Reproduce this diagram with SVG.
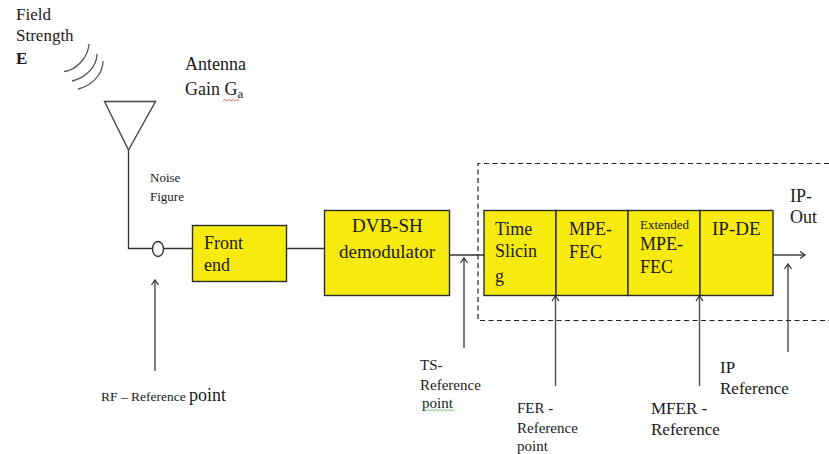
<svg xmlns="http://www.w3.org/2000/svg" width="829" height="454" viewBox="0 0 829 454">
<defs>
<marker id="arr" markerUnits="userSpaceOnUse" markerWidth="10" markerHeight="10" refX="8" refY="5" orient="auto"><path d="M3 1.500L8 5L3 8.500" fill="none" stroke="#333" stroke-width="1.300"/></marker>
</defs>
<style>
text{font-family:"Liberation Serif","Times New Roman",serif;fill:#1a1a1a;font-size:17px}
.b{font-size:18px}
.c{font-size:19px}
.s{font-size:15px}
.t{font-size:13px}
.box{fill:#f7ea0e;stroke:#2b2b2b;stroke-width:1.400}
.ln{fill:none;stroke:#333;stroke-width:1.300}
.ref{fill:none;stroke:#555;stroke-width:1.500;marker-end:url(#arr)}
.sq{fill:none;stroke:#c33;stroke-width:.7}
</style>
<rect width="829" height="454" fill="#fff"/>
<g id="connectors">
<path class="ln" d="M128.500 150V248.500H152M164 248.500H192"/>
<path class="ln" d="M287 248.500H324"/>
<path class="ln" d="M450 255H484"/>
<path class="ref" style="stroke:#444" d="M773 255H805"/>
<path class="ref" d="M155 371V280"/>
<path class="ref" d="M464 348V258"/>
<path class="ref" d="M555.500 386V296"/>
<path class="ref" d="M699.500 386V296"/>
<path class="ref" d="M788 352V264"/>
</g>
<g id="field-strength">
<text x="16" y="20">Field</text><text x="16" y="41">Strength</text><text x="16" y="64" font-weight="bold">E</text>
<path d="M64 71.500C76 70 88 58 89 44M72 81C85 78 97 67 97 54M78 89C91 86 103 75 103 61" fill="none" stroke="#555" stroke-width="1.300"/>
</g>
<g id="antenna">
<path d="M104.500 101.500H155.500L128.500 150Z" fill="none" stroke="#444" stroke-width="1.400"/>
<text class="b" x="185" y="70">Antenna</text>
<text class="b" x="185" y="95">Gain G<tspan font-size="13" dy="3">a</tspan></text>
<path class="sq" d="M223 101l2-1.500 2 1.500 2-1.500 2 1.500 2-1.500 2 1.500 2-1.500 2 1.500"/>
</g>
<g id="noise-figure">
<text class="t" x="150" y="182">Noise</text><text class="t" x="150" y="201">Figure</text>
<ellipse cx="158" cy="249" rx="5.500" ry="7.500" fill="#fff" stroke="#333" stroke-width="1.400"/>
</g>
<g id="front-end">
<rect class="box" x="192.500" y="225.500" width="94" height="56"/>
<text class="b" x="204" y="249">Front</text><text class="b" x="204" y="271">end</text>
</g>
<g id="demodulator">
<rect class="box" x="324.500" y="210.500" width="125" height="85"/>
<text class="c" x="352" y="232">DVB-SH</text><text class="c" x="339" y="258">demodulator</text>
</g>
<g id="dashed-region">
<path d="M829 163.500H478V320.500H829" fill="none" stroke="#222" stroke-width="1.200" stroke-dasharray="5 3.500"/>
</g>
<g id="time-slicing">
<rect class="box" x="484" y="210.500" width="72" height="85"/>
<text class="b" x="495" y="235">Time</text><text class="b" x="495" y="257">Slicin</text><text class="b" x="495" y="282">g</text>
</g>
<g id="mpe-fec">
<rect class="box" x="556" y="210.500" width="72" height="85"/>
<text class="b" x="569" y="235">MPE-</text><text class="b" x="569" y="258">FEC</text>
</g>
<g id="extended-mpe-fec">
<rect class="box" x="628" y="210.500" width="72" height="85"/>
<text class="t" x="640" y="229">Extended</text>
<text class="b" x="640" y="250">MPE-</text><text class="b" x="640" y="273">FEC</text>
</g>
<g id="ip-de">
<rect class="box" x="700" y="210.500" width="73" height="85"/>
<text class="c" x="712" y="235">IP-DE</text>
</g>
<g id="ip-out">
<text class="b" x="790" y="202">IP-</text><text class="b" x="790" y="223">Out</text>
</g>
<g id="rf-reference">
<text x="101" y="401" style="font-size:13.500px">RF – Reference <tspan font-size="18">point</tspan></text>
</g>
<g id="ts-reference">
<text class="s" x="420" y="370">TS-</text><text class="s" x="420" y="390">Reference</text><text class="s" x="422" y="408">point</text>
<path d="M422 411l2-1.500 2 1.500 2-1.500 2 1.500 2-1.500 2 1.500 2-1.500 2 1.500 2-1.500 2 1.500 2-1.500 2 1.500 2-1.500 2 1.500 2-1.500 2 1.500" fill="none" stroke="#3a3" stroke-width=".7"/>
</g>
<g id="fer-reference">
<text class="s" x="517" y="413">FER -</text><text class="s" x="517" y="433">Reference</text><text class="s" x="517" y="451">point</text>
</g>
<g id="mfer-reference">
<text x="651" y="414">MFER -</text><text x="651" y="435">Reference</text>
</g>
<g id="ip-reference">
<text x="720" y="373">IP</text><text x="720" y="394">Reference</text>
</g>
</svg>
